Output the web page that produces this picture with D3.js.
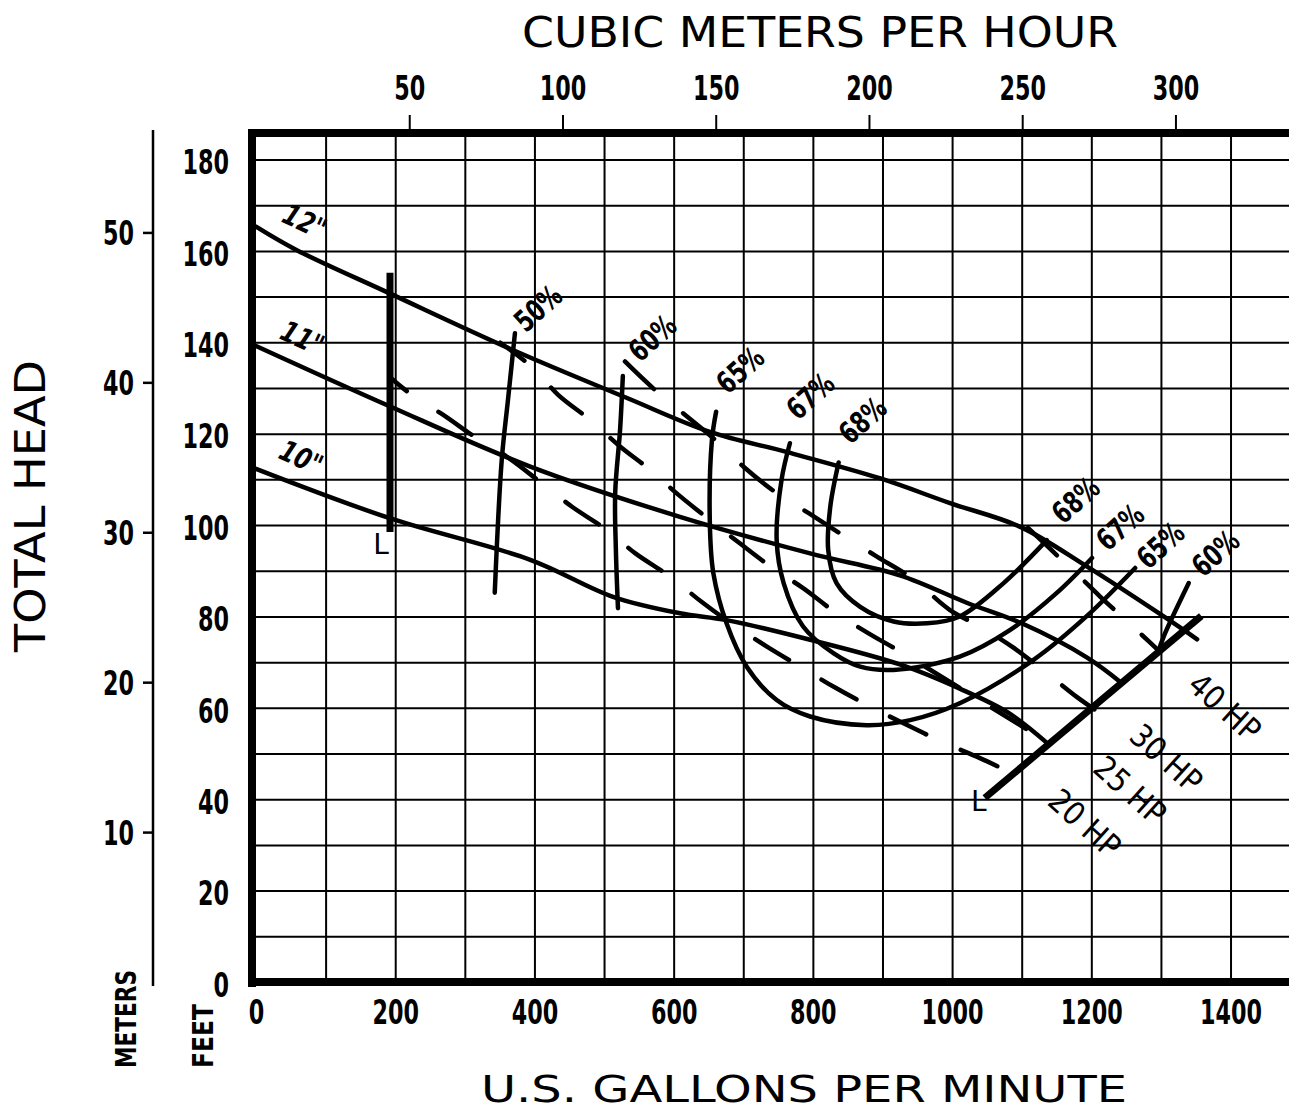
<!DOCTYPE html>
<html>
<head>
<meta charset="utf-8">
<script src="https://cdn.jsdelivr.net/npm/d3@7/dist/d3.min.js"></script>
<style>
body { margin: 0; background: #fff; }
svg { display: block; }
text { fill: #000; font-family: "DejaVu Sans", sans-serif; }
</style>
</head>
<body>
<svg id="chart"></svg>
<script>
let w = 1289
let h = 1111

// axis ticks
const gpmTicks = [0, 200, 400, 600, 800, 1000, 1200, 1400]
const feetTicks = [0, 20, 40, 60, 80, 100, 120, 140, 160, 180]
const meterTicks = [10, 20, 30, 40, 50]
const cmhTicks = [50, 100, 150, 200, 250, 300]

// impeller head curves  [gpm, feet]
const imp12 = [[0,165.3],[58,160.2],[192,150.7],[369,138.3],[533,127.8],[652,120.4],[762,116],[897,110.2],[997,104.8],[1098,99.6],[1194,90.9],[1304,80],[1352,75]]
const imp11 = [[0,139.2],[192,126],[394,112.8],[609,101.8],[796,93.8],[925,89],[1021,83],[1100,78.5],[1194,71],[1243,65.5]]
const imp10 = [[0,112.3],[192,101.5],[394,92.4],[513,84.3],[609,80.7],[676,79.2],[796,74.9],[925,69.5],[1011,64.2],[1080,59],[1135,52.5]]

// efficiency curves
const eff50 = [[372,142],[362,127.4],[353,114.2],[343,85.2]]
const eff60 = [[527,132.6],[523,120.8],[516,107],[517,94.6],[520,81.8]]
const eff65 = [[661,124.8],[655,118.6],[652,100.4],[657,89.5],[676,78.5],[705,69],[748,61.7],[796,58.1],[877,56.2],[940,57.3],[1011,61],[1117,70.5],[1193,80],[1263,90.6]]
const eff67 = [[767,117.9],[755,109.9],[748,96.7],[758,87.3],[786,77.8],[830,71.9],[868,69],[916,68.3],[1011,71.2],[1083,77],[1150,85.1],[1201,92.8]]
const eff68 = [[837,113.7],[825,104],[822,94.6],[834,87.3],[868,82.1],[916,78.9],[964,78.5],[1011,80],[1074,87.3],[1136,96.7]]
const eff60r = [[1340,87.3],[1304,75.6],[1296,72.2]]

// brake horsepower lines (dashed)
const hp20 = [[192,132.4],[221,128.8],[269,124.1],[317,119],[360,115],[411,109.1],[454,104],[504,98.9],[545,93.8],[595,88.7],[640,83.2],[676,79.2],[734,73.4],[782,69],[830,64.6],[882,60.3],[925,57],[988,52.4],[1040,49],[1086,45.7]]
const hp25 = [[351,139.9],[398,134.4],[434,128.5],[480,123],[523,117.2],[566,112.1],[607,106.6],[652,101.1],[695,96],[743,90.5],[786,86.2],[834,80.7],[880,76.3],[930,71.9],[1141,52.1]]
const hp30 = [[530,135.8],[573,129.6],[660,118.6],[700,112.8],[748,107],[794,102.6],[846,97.5],[892,93.1],[942,88.4],[997,81.4],[1040,77.8],[1086,73.4],[1136,67.6],[1179,62.4],[1206,59.5]]
const hp40 = [[1109,99.4],[1138,95.2],[1184,88.6],[1213,84.3],[1246,79.7],[1285,74.2],[1299,72.2]]

// operating limit lines
const limitLow = [[192.5,155.2],[192.5,98.5]]
const limitHigh = [[1047,40.3],[1358,80.1]]

const impLabels = ['12"', '11"', '10"']
const impLabelPos = [[70,166.5],[67,141],[65,114.8]]
const effLabels = ['50%','60%','65%','67%','68%','68%','67%','65%','60%']
const effLabelPos = [[405,147.5],[569,141],[695,134],[796,128.3],[871,123],[1177,105.5],[1241,99.6],[1299,95.6],[1378,93.9]]
const hpLabels = ['40 HP','30 HP','25 HP','20 HP']
const hpLabelPos = [[1392,60.2],[1308,49],[1256,42],[1191,34.8]]

let svg = d3.select('#chart').attr('width', w).attr('height', h)

let x = d3.scaleLinear().domain([0, 1484]).range([256, 1289])
let y = d3.scaleLinear().domain([0, 185.8]).range([982, 133])
let xCmh = d3.scaleLinear().domain([0, 1484 / 4.4029]).range([256, 1289])
let yM = d3.scaleLinear().domain([0, 185.8 / 3.2808]).range([982, 133])

// grid
svg.append('g')
  .attr('transform', 'translate(0,982)')
  .call(d3.axisBottom(x).tickValues(d3.range(100, 1500, 100)).tickSize(-(982 - 133)).tickFormat(''))
  .call(g => g.select('.domain').remove())
  .selectAll('line').attr('stroke', '#000').attr('stroke-width', 2)

svg.append('g')
  .attr('transform', 'translate(256,0)')
  .call(d3.axisLeft(y).tickValues(d3.range(10, 190, 10)).tickSize(-(1289 - 256)).tickFormat(''))
  .call(g => g.select('.domain').remove())
  .selectAll('line').attr('stroke', '#000').attr('stroke-width', 2)

// frame
svg.append('line').attr('x1', 252).attr('x2', 252).attr('y1', 129).attr('y2', 987).attr('stroke', '#000').attr('stroke-width', 8)
svg.append('line').attr('x1', 248).attr('x2', w).attr('y1', y(185.8)).attr('y2', y(185.8)).attr('stroke', '#000').attr('stroke-width', 8)
svg.append('line').attr('x1', 248).attr('x2', w).attr('y1', y(0)).attr('y2', y(0)).attr('stroke', '#000').attr('stroke-width', 8)

let tickFont = (sel, size) => sel.attr('font-size', size).attr('font-weight', 'bold')
  .attr('textLength', d => String(d).length * 15.5).attr('lengthAdjust', 'spacingAndGlyphs')

// bottom gpm labels
let bx = svg.append('g').attr('transform', 'translate(0,982)')
  .call(d3.axisBottom(x).tickValues(gpmTicks).tickSize(0).tickFormat(d3.format('d')))
bx.select('.domain').remove()
bx.selectAll('text').attr('y', 30).attr('dy', '0.36em').call(tickFont, 34)

// left feet labels
let ly = svg.append('g').attr('transform', 'translate(256,0)')
  .call(d3.axisLeft(y).tickValues(feetTicks).tickSize(0).tickPadding(27))
ly.select('.domain').remove()
ly.selectAll('text').attr('dy', '0.42em').call(tickFont, 34)

// meters axis
let my = svg.append('g').attr('transform', 'translate(153,0)')
  .call(d3.axisLeft(yM).tickValues(meterTicks).tickSize(10).tickSizeOuter(0).tickPadding(9))
my.select('.domain').attr('stroke-width', 2.5).attr('d', 'M0,130V986')
my.selectAll('line').attr('stroke-width', 2.5)
my.selectAll('text').attr('dy', '0.36em').call(tickFont, 34)

// top cubic meters per hour
let tx = svg.append('g').attr('transform', 'translate(0,130)')
  .call(d3.axisTop(xCmh).tickValues(cmhTicks).tickSize(15).tickPadding(15))
tx.select('.domain').remove()
tx.selectAll('line').attr('stroke-width', 2)
tx.selectAll('text').call(tickFont, 34)

// titles
svg.append('text').attr('x', 820).attr('y', 47).attr('text-anchor', 'middle')
  .attr('font-size', 42).attr('textLength', 596).attr('lengthAdjust', 'spacingAndGlyphs')
  .text('CUBIC METERS PER HOUR')
svg.append('text').attr('x', 804).attr('y', 1102).attr('text-anchor', 'middle')
  .attr('font-size', 38).attr('textLength', 646).attr('lengthAdjust', 'spacingAndGlyphs')
  .text('U.S. GALLONS PER MINUTE')
svg.append('text').attr('transform', 'translate(45,506) rotate(-90)').attr('text-anchor', 'middle')
  .attr('font-size', 42).attr('textLength', 292).attr('lengthAdjust', 'spacingAndGlyphs')
  .text('TOTAL HEAD')
svg.append('text').attr('transform', 'translate(136,1068) rotate(-90)')
  .attr('font-size', 28).attr('font-weight', 'bold').attr('textLength', 98).attr('lengthAdjust', 'spacingAndGlyphs')
  .text('METERS')
svg.append('text').attr('transform', 'translate(213,1068) rotate(-90)')
  .attr('font-size', 28).attr('font-weight', 'bold').attr('textLength', 64).attr('lengthAdjust', 'spacingAndGlyphs')
  .text('FEET')

// curves
let line = d3.line().x(d => x(d[0])).y(d => y(d[1])).curve(d3.curveCatmullRom.alpha(0.5))
let straight = d3.line().x(d => x(d[0])).y(d => y(d[1]))

let curves = [imp12, imp11, imp10, eff50, eff60, eff65, eff67, eff68, eff60r]
svg.append('g').selectAll('path').data(curves).join('path')
  .attr('d', line).attr('fill', 'none').attr('stroke', '#000')
  .attr('stroke-width', 4.5).attr('stroke-linecap', 'round')

let hpLines = [hp20, hp25, hp30, hp40]
let hpOffsets = [18, 10, 0, 0]
svg.append('g').selectAll('path').data(hpLines).join('path')
  .attr('d', line).attr('fill', 'none').attr('stroke', '#000')
  .attr('stroke-width', 4.5).attr('stroke-linecap', 'round')
  .attr('stroke-dasharray', '40,38').attr('stroke-dashoffset', (d, i) => hpOffsets[i])

svg.append('path').attr('d', straight(limitLow)).attr('stroke', '#000').attr('stroke-width', 7)
svg.append('path').attr('d', straight(limitHigh)).attr('stroke', '#000').attr('stroke-width', 7)

let lFont = sel => sel.attr('font-size', 28).attr('text-anchor', 'middle')
svg.append('text').attr('x', x(limitLow[1][0]) - 9).attr('y', y(limitLow[1][1]) + 22).call(lFont).text('L')
svg.append('text').attr('x', x(limitHigh[0][0]) - 6).attr('y', y(limitHigh[0][1]) + 13).call(lFont).text('L')

// labels
svg.append('g').selectAll('text').data(impLabels).join('text')
  .attr('transform', (d, i) => `translate(${x(impLabelPos[i][0])},${y(impLabelPos[i][1])}) rotate(25)`)
  .attr('text-anchor', 'middle').attr('dy', '0.36em').attr('font-size', 29).attr('font-style', 'italic')
  .attr('font-weight', 'bold').attr('textLength', 44).attr('lengthAdjust', 'spacingAndGlyphs')
  .text(d => d)

svg.append('g').selectAll('text').data(effLabels).join('text')
  .attr('transform', (d, i) => `translate(${x(effLabelPos[i][0])},${y(effLabelPos[i][1])}) rotate(-42)`)
  .attr('text-anchor', 'middle').attr('dy', '0.36em').attr('font-size', 30).attr('font-weight', 'bold')
  .attr('textLength', 52).attr('lengthAdjust', 'spacingAndGlyphs')
  .text(d => d)

svg.append('g').selectAll('text').data(hpLabels).join('text')
  .attr('transform', (d, i) => `translate(${x(hpLabelPos[i][0])},${y(hpLabelPos[i][1])}) rotate(42)`)
  .attr('text-anchor', 'middle').attr('dy', '0.36em').attr('font-size', 32)
  .attr('textLength', 84).attr('lengthAdjust', 'spacingAndGlyphs')
  .text(d => d)
</script>
</body>
</html>
